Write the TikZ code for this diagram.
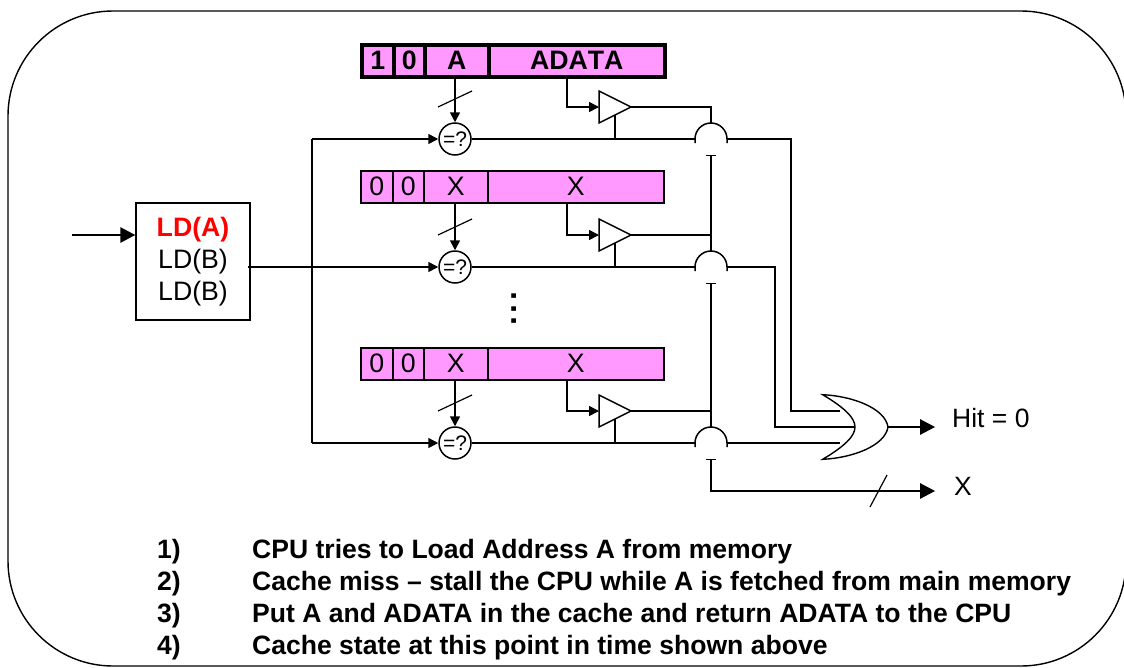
\documentclass[tikz,border=0pt]{standalone}
\usepackage{fontspec}
\setmainfont{Liberation Sans}
\usetikzlibrary{arrows.meta,calc}
\definecolor{cellpink}{RGB}{255,153,255}
\tikzset{
  wire/.style={line width=1.5pt,draw=black},
  arrowed/.style={wire,-{Triangle[length=10pt,width=10pt]}},
  bigarrow/.style={wire,-{Triangle[length=15pt,width=15.5pt]}},
  cell/.style={draw=black,fill=cellpink,line width=1.5pt,minimum height=32pt,inner sep=0pt,font=\fontsize{26.7}{26.7}\selectfont,anchor=north west},
  boldcell/.style={cell,line width=3.6pt,font=\fontsize{26.7}{26.7}\selectfont\bfseries\addfontfeature{Kerning=Off}},
  cmp/.style={draw=black,fill=white,line width=1.5pt,circle,minimum size=32pt,inner sep=0pt,font=\fontsize{21}{21}\selectfont},
  gatebody/.style={line width=1.5pt,draw=black,fill=white},
  tick/.style={line width=1.2pt,draw=black},
  note/.style={font=\fontsize{26.55}{26.55}\selectfont\bfseries,anchor=base west,inner sep=0pt},
  label/.style={font=\fontsize{26.5}{26.5}\selectfont,anchor=base west,inner sep=0pt}
}
% #1 name, #2 top y, #3 cell style, #4 first, #5 tag, #6 data, #7 comparator y
\newcommand{\cacherow}[7]{%
  \node[#3,minimum width=32pt] (#1a) at (360,#2) {#4};
  \node[#3,minimum width=31pt] (#1b) at (392,#2) {0};
  \node[#3,minimum width=64pt] (#1c) at (423,#2) {#5};
  \node[#3,minimum width=176pt] (#1d) at (487,#2) {#6};
  \node[cmp] (#1cmp) at (455,#7) {=?};
  \coordinate (#1in) at (567,#7-32);
  \coordinate (#1gl) at (599,#7-32);
  \coordinate (#1gt) at (631,#7-32);
  \coordinate (#1en) at (615,#7);
  \coordinate (#1bl) at (695,#7);
  \coordinate (#1bo) at (727,#7);
  \coordinate (#1bt) at (711,#7-16);
  \draw[arrowed] (#1c.south -| #1cmp) -- (#1cmp.north);
  \coordinate (#1ta) at (438,#7-32);
  \coordinate (#1tb) at (472,#7-48);
  \draw[tick] (#1ta) -- (#1tb);
  \draw[arrowed] (#1d.south -| #1in) -- (#1in) -- (#1gl);
  \draw[wire] (#1cmp.east) -- (#1bl);
  \draw[wire] (#1en) -- (615,#7-24);
  \draw[gatebody] (#1gl) ++(0,-16) -- (#1gt) -- (599,#7-16) -- cycle;
  \draw[wire] (695,#7+4) -- (#1bl) arc[start angle=180,end angle=0,radius=16pt] -- (727,#7+4);
  \draw[wire] (#1gt) -| (#1bt);
}
\begin{document}
\begin{tikzpicture}[x=1pt,y=-1pt]
\useasboundingbox (0,0) rectangle (1124,667);
\clip (0,0) rectangle (1124,667);
\draw[line width=1.4pt] (8,116) arc[start angle=180,end angle=90,radius=105pt] -- (1021,11) arc[start angle=90,end angle=0,radius=105pt] -- (1126,561) arc[start angle=0,end angle=-90,radius=105pt] -- (113,666) arc[start angle=-90,end angle=-180,radius=105pt] -- cycle;
% instruction box
\node[draw=black,line width=1.5pt,fill=white,minimum width=114pt,minimum height=117pt,inner sep=0pt,align=center,font=\fontsize{26.67}{32}\selectfont] (instr) at (193,261.5) {\textcolor{red}{\bfseries LD(A)}\\LD(B)\\LD(B)};
\coordinate (instart) at (72,235);
\draw[bigarrow] (instart) -- (instart -| instr.west);
% bus
\coordinate (lt) at (312,139);
\coordinate (lb) at (312,443);
\coordinate (instrout) at (248,267);
% rows
\cacherow{ra}{43}{boldcell}{1}{A}{ADATA}{139}
\cacherow{rb}{170}{cell}{0}{X}{X}{267}
\cacherow{rc}{347}{cell}{0}{X}{X}{443}
\node[inner sep=0pt,font=\fontsize{32}{32}\selectfont\bfseries] (dots) at (514,309) {\rotatebox{90}{.\kern3.6pt.\kern3.6pt.}};
\draw[wire] (lt) -- (lb);
\draw[arrowed] (lt) -- (racmp.west);
\draw[arrowed] (lb) -- (rccmp.west);
\draw[arrowed] (instrout) -- (rbcmp.west);
% shared data bus with bump gaps
\coordinate (bus1) at (711,155);
\coordinate (bus2) at (711,283);
\coordinate (bus3) at (711,459);
\draw[wire] (bus1) -- (rbbt);
\draw[wire] (bus2) -- (rcbt);
\draw[line width=.8pt] (706,155) -- (716,155);
\draw[line width=.8pt] (706,283) -- (716,283);
\draw[line width=.8pt] (706,459) -- (716,459);
% OR gate
\coordinate (ortip) at (888,427);
\coordinate (orback) at (855,427);
\coordinate (orul) at (822.7,394.7);
\coordinate (orll) at (822.7,459.3);
\coordinate (hitend) at (935,427);
\coordinate (xc) at (711,491);
\coordinate (xend) at (935,491);
\draw[wire] (rabo) -- (791,139) -- (791,411) -- (840,411);
\draw[wire] (rbbo) -- (775,267) -- (775,427) -- (orback);
\draw[wire] (rcbo) -- (840,443);
\draw[line width=1.4pt,draw=black] (orul) .. controls (852,396) and (885,408) .. (ortip) .. controls (885,446) and (852,458) .. (orll) .. controls (845,446) and (855,436) .. (orback) .. controls (855,418) and (845,408) .. (orul) -- cycle;
\draw[bigarrow] (ortip) -- (hitend);
\draw[bigarrow] (bus3) -- (xc) -- (xend);
\coordinate (xta) at (870,507);
\coordinate (xtb) at (887,475);
\draw[tick] (xta) -- (xtb);
\node[label] (hit) at (952,427) {Hit = 0};
\node[label] (xout) at (954,495) {X};
% notes
\node[note] (n1) at (157,558) {1)};
\node[note] (t1) at (252,558) {CPU tries to Load Address A from memory};
\node[note] (n2) at (157,590.5) {2)};
\node[note] (t2) at (252,590.5) {Cache miss – stall the CPU while A is fetched from main memory};
\node[note] (n3) at (157,622.5) {3)};
\node[note] (t3) at (252,622.5) {Put A and ADATA in the cache and return ADATA to the CPU};
\node[note] (n4) at (157,654) {4)};
\node[note] (t4) at (252,654) {Cache state at this point in time shown above};
\end{tikzpicture}
\end{document}
